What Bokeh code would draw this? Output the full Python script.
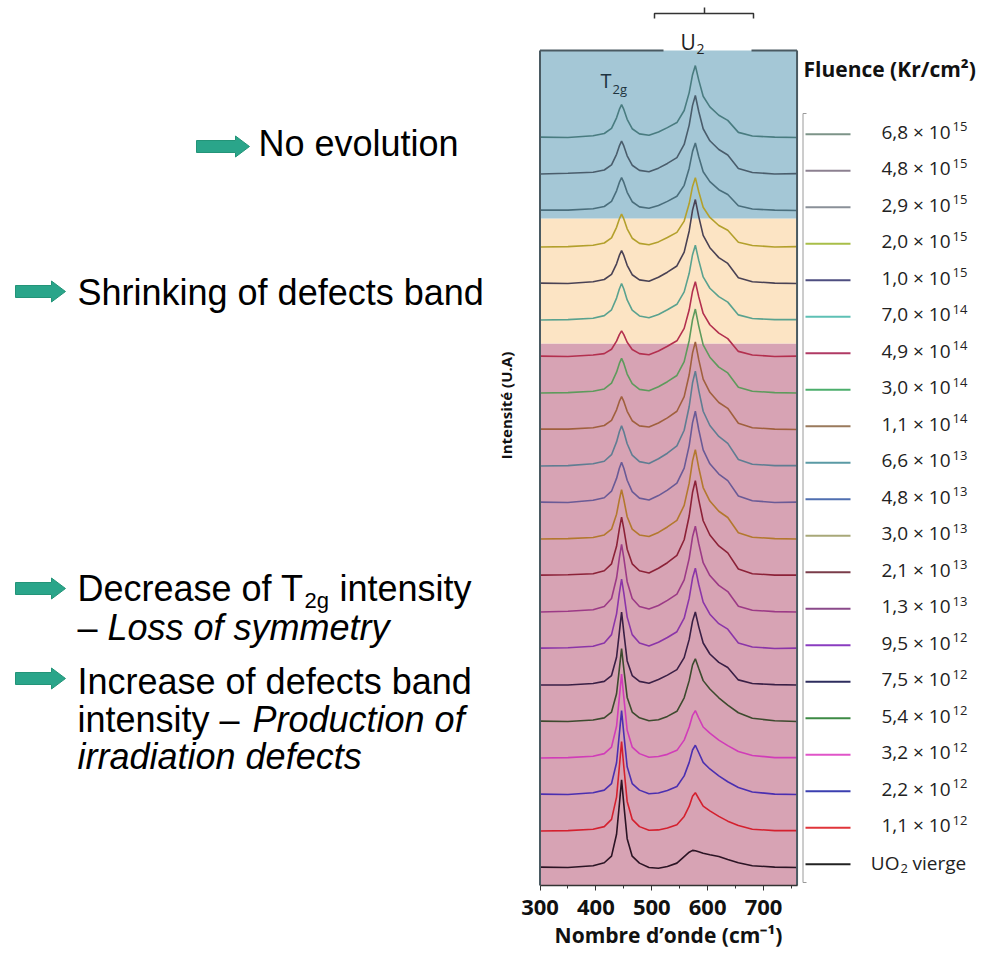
import math
from bokeh.plotting import figure
from bokeh.layouts import row
from bokeh.models import Range1d, FixedTicker, ColumnDataSource
from bokeh.core.properties import value
from bokeh.embed import file_html
from bokeh.resources import INLINE

# ---------------- data ----------------
# Raman shift grid (cm-1)
wavenumber = [300, 350, 395, 415, 428, 437, 442, 446, 450, 456, 465, 478, 495, 512,
              528, 545, 558, 567, 573, 578, 584, 592, 604, 620, 636, 655, 680, 720, 760]

# intensities in units of the stacking step, bottom (virgin) to top (highest fluence)
spec_virgin = [0.01, 0.0, 0.05, 0.13, 0.31, 0.91, 1.73, 2.4, 1.73, 0.79, 0.31, 0.12, 0.0, -0.02, 0.03, 0.12, 0.3, 0.42, 0.47, 0.46, 0.43, 0.39, 0.35, 0.3, 0.22, 0.13, 0.05, 0.01, 0.0]
spec_1_1e12 = [0.0, 0.01, 0.05, 0.12, 0.32, 0.93, 1.76, 2.45, 1.76, 0.81, 0.32, 0.12, 0.02, 0.03, 0.08, 0.17, 0.4, 0.68, 0.95, 1.05, 0.89, 0.68, 0.55, 0.4, 0.27, 0.15, 0.05, 0.01, 0.01]
spec_2_2e12 = [0.01, 0.0, 0.05, 0.12, 0.3, 0.87, 1.66, 2.3, 1.66, 0.76, 0.3, 0.12, 0.02, 0.04, 0.11, 0.22, 0.51, 0.88, 1.22, 1.35, 1.15, 0.88, 0.7, 0.51, 0.35, 0.19, 0.07, 0.01, 0.0]
spec_3_2e12 = [0.0, 0.01, 0.05, 0.12, 0.3, 0.87, 1.66, 2.3, 1.66, 0.76, 0.3, 0.12, 0.02, 0.04, 0.1, 0.21, 0.49, 0.85, 1.17, 1.3, 1.1, 0.85, 0.68, 0.49, 0.34, 0.18, 0.07, 0.01, 0.01]
spec_5_4e12 = [0.01, 0.0, 0.04, 0.1, 0.26, 0.76, 1.44, 2.0, 1.44, 0.66, 0.26, 0.1, 0.02, 0.05, 0.14, 0.28, 0.65, 1.12, 1.55, 1.72, 1.46, 1.12, 0.89, 0.65, 0.45, 0.24, 0.09, 0.02, 0.0]
spec_7_5e12 = [0.0, 0.0, 0.04, 0.1, 0.26, 0.76, 1.44, 2.0, 1.44, 0.66, 0.26, 0.1, 0.05, 0.15, 0.27, 0.42, 0.75, 1.25, 1.75, 2.0, 1.6, 1.15, 0.85, 0.62, 0.48, 0.14, 0.04, 0.01, 0.0]
spec_9_5e12 = [0.01, 0.02, 0.06, 0.15, 0.38, 0.95, 1.52, 1.9, 1.52, 0.86, 0.38, 0.15, 0.07, 0.17, 0.3, 0.46, 0.83, 1.38, 1.93, 2.2, 1.76, 1.27, 0.94, 0.68, 0.53, 0.15, 0.04, 0.0, 0.01]
spec_1_3e13 = [0.0, 0.02, 0.06, 0.15, 0.37, 0.93, 1.48, 1.85, 1.48, 0.83, 0.37, 0.15, 0.08, 0.18, 0.32, 0.49, 0.88, 1.47, 2.06, 2.35, 1.88, 1.35, 1.0, 0.73, 0.56, 0.16, 0.05, 0.01, 0.0]
spec_2_1e13 = [0.01, 0.02, 0.05, 0.13, 0.32, 0.8, 1.28, 1.6, 1.28, 0.72, 0.32, 0.13, 0.07, 0.2, 0.35, 0.55, 0.98, 1.63, 2.28, 2.6, 2.08, 1.5, 1.11, 0.81, 0.62, 0.18, 0.05, 0.01, 0.01]
spec_3_0e13 = [0.0, 0.01, 0.04, 0.11, 0.27, 0.68, 1.08, 1.35, 1.08, 0.61, 0.27, 0.11, 0.07, 0.18, 0.33, 0.51, 0.92, 1.53, 2.14, 2.45, 1.96, 1.41, 1.04, 0.76, 0.59, 0.17, 0.05, 0.01, 0.0]
spec_4_8e13 = [0.01, 0.0, 0.06, 0.13, 0.31, 0.66, 0.94, 1.1, 0.94, 0.61, 0.3, 0.12, 0.07, 0.19, 0.34, 0.53, 0.94, 1.56, 2.19, 2.5, 2.0, 1.44, 1.06, 0.78, 0.6, 0.18, 0.05, 0.0, 0.01]
spec_6_6e13 = [0.0, 0.01, 0.06, 0.13, 0.31, 0.66, 0.94, 1.1, 0.94, 0.61, 0.3, 0.12, 0.07, 0.2, 0.35, 0.55, 0.98, 1.63, 2.28, 2.6, 2.08, 1.5, 1.11, 0.81, 0.62, 0.18, 0.05, 0.01, 0.01]
spec_1_1e14 = [0.01, 0.01, 0.05, 0.11, 0.25, 0.54, 0.77, 0.9, 0.77, 0.5, 0.24, 0.1, 0.07, 0.18, 0.32, 0.5, 0.9, 1.5, 2.1, 2.4, 1.92, 1.38, 1.02, 0.74, 0.58, 0.17, 0.05, 0.01, 0.0]
spec_3_0e14 = [0.0, 0.01, 0.05, 0.11, 0.27, 0.57, 0.81, 0.95, 0.81, 0.52, 0.26, 0.1, 0.06, 0.17, 0.31, 0.48, 0.86, 1.44, 2.01, 2.3, 1.84, 1.32, 0.98, 0.71, 0.55, 0.16, 0.05, 0.01, 0.0]
spec_4_9e14 = [0.01, 0.0, 0.04, 0.08, 0.2, 0.42, 0.6, 0.7, 0.6, 0.39, 0.19, 0.08, 0.05, 0.15, 0.28, 0.43, 0.77, 1.28, 1.79, 2.05, 1.64, 1.18, 0.87, 0.64, 0.49, 0.14, 0.04, 0.0, 0.01]
spec_7_0e14 = [0.0, 0.01, 0.05, 0.12, 0.28, 0.6, 0.85, 1.0, 0.85, 0.55, 0.27, 0.11, 0.06, 0.15, 0.28, 0.43, 0.77, 1.28, 1.79, 2.05, 1.64, 1.18, 0.87, 0.64, 0.49, 0.14, 0.04, 0.01, 0.01]
spec_1_0e15 = [0.01, 0.0, 0.05, 0.11, 0.25, 0.54, 0.77, 0.9, 0.77, 0.5, 0.24, 0.1, 0.06, 0.17, 0.31, 0.48, 0.86, 1.44, 2.01, 2.3, 1.84, 1.32, 0.98, 0.71, 0.55, 0.16, 0.05, 0.01, 0.0]
spec_2_0e15 = [0.0, 0.01, 0.05, 0.11, 0.25, 0.54, 0.77, 0.9, 0.77, 0.5, 0.24, 0.1, 0.06, 0.14, 0.26, 0.4, 0.71, 1.19, 1.66, 1.9, 1.52, 1.09, 0.81, 0.59, 0.46, 0.13, 0.04, 0.0, 0.01]
spec_2_9e15 = [0.01, 0.01, 0.05, 0.11, 0.25, 0.54, 0.77, 0.9, 0.77, 0.5, 0.24, 0.1, 0.06, 0.14, 0.25, 0.39, 0.69, 1.16, 1.62, 1.85, 1.48, 1.06, 0.79, 0.57, 0.44, 0.13, 0.04, 0.01, 0.0]
spec_4_8e15 = [0.0, 0.02, 0.05, 0.11, 0.25, 0.54, 0.77, 0.9, 0.77, 0.5, 0.24, 0.1, 0.06, 0.16, 0.29, 0.45, 0.81, 1.34, 1.88, 2.15, 1.72, 1.24, 0.91, 0.67, 0.52, 0.15, 0.04, 0.0, 0.01]
spec_6_8e15 = [0.01, 0.0, 0.05, 0.11, 0.25, 0.54, 0.77, 0.9, 0.77, 0.5, 0.24, 0.1, 0.06, 0.15, 0.27, 0.41, 0.74, 1.23, 1.72, 1.97, 1.58, 1.13, 0.84, 0.61, 0.47, 0.14, 0.04, 0.01, 0.0]

spectra = [spec_virgin, spec_1_1e12, spec_2_2e12, spec_3_2e12, spec_5_4e12, spec_7_5e12,
           spec_9_5e12, spec_1_3e13, spec_2_1e13, spec_3_0e13, spec_4_8e13, spec_6_6e13,
           spec_1_1e14, spec_3_0e14, spec_4_9e14, spec_7_0e14, spec_1_0e15, spec_2_0e15,
           spec_2_9e15, spec_4_8e15, spec_6_8e15]

# fluence labels (Kr/cm2), same order
fluence_mantissa = ["", "1,1", "2,2", "3,2", "5,4", "7,5", "9,5", "1,3", "2,1", "3,0", "4,8",
                    "6,6", "1,1", "3,0", "4,9", "7,0", "1,0", "2,0", "2,9", "4,8", "6,8"]
fluence_exponent = ["", "12", "12", "12", "12", "12", "12", "13", "13", "13", "13",
                    "13", "14", "14", "14", "14", "15", "15", "15", "15", "15"]

x_ticks = [300, 400, 500, 600, 700]
x_minor = [350, 450, 550, 650, 750]

# ---------------- styles ----------------
curve_colors = ["#2b1424", "#d4202e", "#4b2fb0", "#d13cb8", "#3d4a2e", "#3a1f45",
                "#8b35a8", "#9c3a86", "#8c2238", "#b3782e", "#6a5a96", "#5f7d92",
                "#a0603e", "#5e9a5c", "#b3304f", "#5aa28f", "#4a4254", "#b3a02c",
                "#4a6e7c", "#4a5d6c", "#497c80"]
legend_colors = ["#222222", "#e0353a", "#3b3fb0", "#e055c8", "#3d8a45", "#2e2d5e",
                 "#8a3cc0", "#8a4a8a", "#7a3c4a", "#a8a878", "#4f6fb0", "#5a9aa5",
                 "#9a7a5c", "#4cae6c", "#b03a64", "#5ec0b5", "#4e4e80", "#a8be48",
                 "#8a9098", "#8c8090", "#7d9488"]
band_colors = ["#d7a3b4", "#fce4c4", "#a4c7d6"]

CAL = "Open Sans"
ARL = "Liberation Sans"

H = 964
FRAME_BOTTOM = 885
BOTTOM_BORDER = H - FRAME_BOTTOM
STEP_PX = 36.5

# page-pixel -> data helpers for the spectra panel
def xd(px):
    return 300 + (px - 539.5) / 0.5588

def yd(py):
    return (FRAME_BOTTOM - py) / STEP_PX - 0.493

BOX_TOP = yd(50)
band_low = [yd(886), yd(343), yd(218)]
band_high = [yd(343), yd(218), BOX_TOP]

# ---------------- spectra panel ----------------
p = figure(width=282, height=H, x_range=Range1d(xd(536), xd(800)),
           y_range=Range1d(yd(FRAME_BOTTOM), yd(0)), output_backend="svg",
           toolbar_location=None, y_axis_location=None,
           min_border_left=18, min_border_right=0, min_border_top=0,
           min_border_bottom=BOTTOM_BORDER, outline_line_color=None,
           background_fill_color="white", border_fill_color="white")
p.grid.grid_line_color = None

p.quad(left=300, right=760, bottom=band_low, top=band_high,
       fill_color=band_colors, line_color=None)

for k in range(len(spectra) - 1, -1, -1):
    p.line(wavenumber, [v + k for v in spectra[k]], line_color=curve_colors[k],
           line_width=1.6)

p.multi_line(xs=[[300, 300], [760, 760], [300, xd(663)], [xd(751), 760]],
             ys=[[yd(887), BOX_TOP], [yd(887), BOX_TOP], [BOX_TOP, BOX_TOP],
                 [BOX_TOP, BOX_TOP]],
             line_color="#4a5a62", line_width=2)

# U2 bracket
p.multi_line(xs=[[xd(654), xd(654), xd(753), xd(753)], [xd(704), xd(704)]],
             ys=[[yd(18), yd(13), yd(13), yd(18)], [yd(13), yd(7)]],
             line_color="#333333", line_width=1.5)

MID = "middle"
p.text(x=[xd(600)], y=[yd(79.5)], text=["T"], text_font=value(CAL),
       text_font_size="20px", text_color="#1d3340", text_baseline=MID)
p.text(x=[xd(612)], y=[yd(88)], text=["2g"], text_font=value(CAL),
       text_font_size="13px", text_color="#1d3340", text_baseline=MID)
p.text(x=[xd(680)], y=[yd(41)], text=["U"], text_font=value(CAL),
       text_font_size="21px", text_color="#222222", text_baseline=MID)
p.text(x=[xd(696)], y=[yd(48)], text=["2"], text_font=value(CAL),
       text_font_size="14px", text_color="#222222", text_baseline=MID)

ax = p.xaxis[0]
ax.ticker = FixedTicker(ticks=x_ticks, minor_ticks=x_minor)
ax.bounds = (300, 760)
ax.axis_line_color = "#333333"
ax.axis_line_width = 1.5
ax.major_tick_line_color = "#333333"
ax.major_tick_out = 5
ax.major_tick_in = 0
ax.minor_tick_line_color = "#333333"
ax.minor_tick_out = 3
ax.minor_tick_in = 0
ax.major_label_text_font = CAL
ax.major_label_text_font_style = "bold"
ax.major_label_text_font_size = "22px"
ax.major_label_text_color = "#111111"
ax.major_label_standoff = 9
ax.axis_label = "Nombre d’onde (cm⁻¹)"
ax.axis_label_text_font = CAL
ax.axis_label_text_font_style = "bold"
ax.axis_label_text_font_size = "21px"
ax.axis_label_text_color = "#111111"
ax.axis_label_standoff = 3

# ---------------- legend panel ----------------
RW = 186
r = figure(width=RW, height=H, x_range=Range1d(800, 800 + RW), y_range=p.y_range,
           output_backend="svg", toolbar_location=None, x_axis_location=None,
           y_axis_location=None, min_border_left=0, min_border_right=0,
           min_border_top=0, min_border_bottom=BOTTOM_BORDER, outline_line_color=None,
           background_fill_color="white", border_fill_color="white")
r.grid.grid_line_color = None

n = len(spectra)
leg = ColumnDataSource(dict(
    y_line=[k + 0.09 for k in range(n)],
    y_txt=[k + 0.16 for k in range(n)],
    y_exp=[k + 0.30 for k in range(n)],
    color=legend_colors,
    base=[(m + " × 10") if m else "" for m in fluence_mantissa],
    exp=fluence_exponent,
))
r.segment(x0=805, y0="y_line", x1=850, y1="y_line", line_color="color",
          line_width=2, source=leg)
r.text(x=950, y="y_txt", text="base", text_align="right", text_baseline=MID,
       text_font=value(CAL), text_font_size="19px", text_color="#222222", source=leg)
r.text(x=952, y="y_exp", text="exp", text_align="left", text_baseline=MID,
       text_font=value(CAL), text_font_size="13px", text_color="#222222", source=leg)
r.text(x=[899], y=[0.11], text=["UO"], text_align="right", text_baseline=MID,
       text_font=value(CAL), text_font_size="19px", text_color="#222222")
r.text(x=[900], y=[-0.02], text=["2"], text_align="left", text_baseline=MID,
       text_font=value(CAL), text_font_size="13px", text_color="#222222")
r.text(x=[912], y=[0.11], text=["vierge"], text_align="left", text_baseline=MID,
       text_font=value(CAL), text_font_size="19px", text_color="#222222")
r.text(x=[803], y=[yd(68)], text=["Fluence (Kr/cm²)"], text_baseline=MID,
       text_font=value(CAL), text_font_size="21px", text_font_style="bold",
       text_color="#111111")
r.multi_line(xs=[[806, 802.5, 802.5, 806]], ys=[[yd(113), yd(113), yd(882), yd(882)]],
             line_color="#9a9a9a", line_width=1)

# ---------------- left comments panel ----------------
LW = 518
L = figure(width=LW, height=H, x_range=Range1d(0, LW), y_range=Range1d(-FRAME_BOTTOM, 0),
           output_backend="svg", toolbar_location=None, x_axis_location=None,
           y_axis_location=None, min_border_left=0, min_border_right=0,
           min_border_top=0, min_border_bottom=BOTTOM_BORDER, outline_line_color=None,
           background_fill_color="white", border_fill_color="white")
L.grid.grid_line_color = None

def arrow(x0, tip, yc):
    hx = tip - 14
    xs = [x0, hx, hx, tip, hx, hx, x0]
    ys = [yc - 6, yc - 6, yc - 10.5, yc, yc + 10.5, yc + 6, yc + 6]
    return xs, [-v for v in ys]

arrows = [arrow(196, 249, 146), arrow(15, 65, 291), arrow(15, 65, 588), arrow(15, 65, 678)]
L.patches(xs=[a[0] for a in arrows], ys=[a[1] for a in arrows],
          fill_color="#2aa58a", line_color="#239478", line_width=1)

normal = ColumnDataSource(dict(
    x=[258, 77, 77, 339, 77, 77, 77],
    y=[-143, -291.5, -587.5, -587.5, -627, -680.5, -718.5],
    t=["No evolution", "Shrinking of defects band", "Decrease of T", "intensity",
       "–", "Increase of defects band", "intensity –"]))
L.text(x="x", y="y", text="t", source=normal, text_font=value(ARL),
       text_font_size="36px", text_color="#000000", text_baseline=MID)
L.text(x=[304], y=[-600], text=["2g"], text_font=value(ARL), text_font_size="22px",
       text_color="#000000", text_baseline=MID)
ital = ColumnDataSource(dict(
    x=[107, 252, 77], y=[-627, -718.5, -756],
    t=["Loss of symmetry", "Production of", "irradiation defects"]))
L.text(x="x", y="y", text="t", source=ital, text_font=value(ARL),
       text_font_size="36px", text_font_style="italic", text_color="#000000",
       text_baseline=MID)
L.text(x=[505], y=[-405], text=["Intensité (U.A)"], angle=math.pi / 2,
       text_align="center", text_baseline=MID, text_font=value(CAL),
       text_font_size="15px", text_font_style="bold", text_color="#111111")

layout = row(L, p, r)
open("out.html", "w").write(file_html(layout, INLINE))
